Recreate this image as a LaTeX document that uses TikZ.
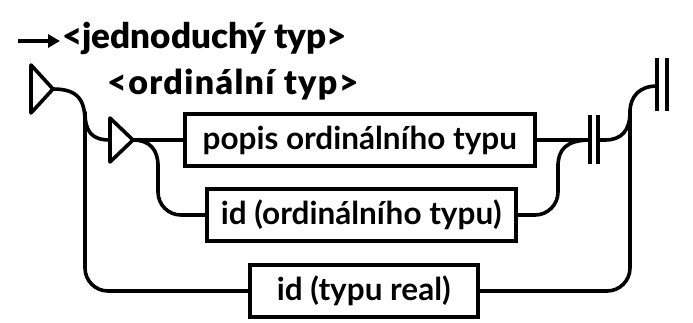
\documentclass[tikz,border=0pt]{standalone}
\usepackage{fontspec}
\setmainfont{Lato}
\newfontfamily\heavy{Lato Black}
\newfontfamily\heavysp{Lato Black}[LetterSpace=4]
\usetikzlibrary{arrows.meta}
\begin{document}
\begin{tikzpicture}[x=1pt,y=-1pt,
  line/.style={line width=3.6pt,line join=round,line cap=round},
  boxnode/.style={draw,line width=3.6pt,minimum height=52pt,inner xsep=0pt,font=\fontsize{31.5}{34}\selectfont\bfseries,anchor=west},
  head/.style={anchor=base west,inner sep=0pt},
  bar/.style={line width=3.4pt}]
\useasboundingbox (0,0) rectangle (693,322);
% title
\coordinate (ta) at (18,41);
\coordinate (tb) at (60,41);
\draw[line width=3.4pt,-{Triangle[length=12pt,width=13pt]}] (ta) -- (tb);
\node[head,font=\fontsize{35}{40}\selectfont\heavy] (title) at (62,48) {<jednoduchý typ>};
\node[head,font=\fontsize{34}{40}\selectfont\heavysp] (ord) at (107,94) {<ordinální typ>};
% triangles
\draw[line] (31,65) -- (31,113) -- (53,89) -- cycle;
\coordinate (t1) at (53,89);
\draw[line] (110,118) -- (110,162) -- (133,140) -- cycle;
\coordinate (t2l) at (110,140);
\coordinate (t2) at (133,140);
% boxes
\node[boxnode,minimum width=350pt] (b1) at (183,140) {popis ordinálního typu};
\node[boxnode,minimum width=309pt] (b2) at (205,215) {id (ordinálního typu)};
\node[boxnode,minimum width=228pt] (b3) at (248,291) {id (typu real)};
% bars
\coordinate (bar1) at (590,140);
\coordinate (bar1b) at (598,140);
\draw[bar] (590,115) -- (590,164);
\draw[bar] (598,115) -- (598,164);
\coordinate (bar2) at (657,86);
\draw[bar] (657,58) -- (657,111);
\draw[bar] (667,58) -- (667,111);
% connectors
\draw[line] (t1) .. controls (78,89) and (85,100) .. (85,122);
\draw[line,rounded corners=23pt] (85,120) -- (85,291) -- (b3.west);
\draw[line] (85,112) .. controls (85,132) and (92,140) .. (t2l);
\draw[line] (t2) -- (b1.west);
\draw[line] (t2) .. controls (150,140) and (158,150) .. (158,166);
\draw[line,rounded corners=23pt] (158,164) -- (158,215) -- (b2.west);
\draw[line,rounded corners=23pt] (b2.east) -- (558,215) -- (558,164);
\draw[line] (558,166) .. controls (558,150) and (566,140) .. (bar1);
\draw[line] (b1.east) -- (bar1);
\draw[line] (bar1b) -- (605,140) .. controls (622,140) and (630,130) .. (630,112) .. controls (630,96) and (640,86) .. (bar2);
\draw[line,rounded corners=23pt] (b3.east) -- (630,291) -- (630,110);
\end{tikzpicture}
\end{document}
